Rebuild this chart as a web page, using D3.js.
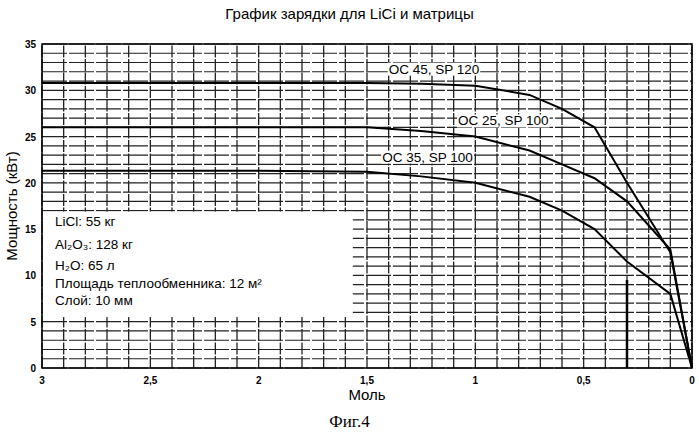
<!DOCTYPE html>
<html><head><meta charset="utf-8">
<script src="https://cdn.jsdelivr.net/npm/d3@7"></script>
<style>body{margin:0;background:#fff}text{font-family:Arial,'Liberation Sans',sans-serif}</style>
</head><body><svg class="graph"></svg>
<script>
let width=699,height=436
let margin={top:44,left:42,right:7,bottom:68}
let xTicks=[3,2.5,2,1.5,1,0.5,0]
let yTicks=[0,5,10,15,20,25,30,35]
let mol=[3,2,1.5,1.25,1,0.75,0.6,0.45,0.3,0.1,0]
let oc45=[30.8,30.8,30.8,30.7,30.5,29.5,28,26,20,12.5,0]
let oc25=[26,26,26,25.6,25,23.5,22,20.5,18,12.8,0]
let oc35=[21.3,21.3,21.2,20.7,20,18.5,17,15,11.5,8,0]
let labels=['OC 45, SP 120','OC 25, SP 100','OC 35, SP 100']
let boxText=['LiCl: 55 кг','Al₂O₃: 128 кг','H₂O: 65 л','Площадь теплообменника: 12 м²','Слой: 10 мм']
let boxRows=[15.3,12.9,10.6,8.6,6.8]

let svg=d3.select('.graph').attr('width',width).attr('height',height)
let xscale=d3.scaleLinear().domain([3,0]).range([margin.left,width-margin.right])
let yscale=d3.scaleLinear().domain([0,35]).range([height-margin.bottom,margin.top])

// grid
svg.append('g').selectAll('line').data(d3.range(0,30.5,1).map(d=>d/10)).join('line')
   .attr('x1',d=>xscale(d)).attr('x2',d=>xscale(d)).attr('y1',yscale(0)).attr('y2',yscale(35))
   .attr('stroke','#222').attr('stroke-width',1.3).attr('stroke-dasharray','12,1.5')
svg.append('g').selectAll('line').data(d3.range(0,36)).join('line')
   .attr('x1',xscale(3)).attr('x2',xscale(0)).attr('y1',d=>yscale(d)).attr('y2',d=>yscale(d))
   .attr('stroke','#222').attr('stroke-width',1.2).attr('stroke-dasharray','25,2')
svg.append('rect').attr('x',xscale(3)).attr('y',yscale(35)).attr('width',xscale(0)-xscale(3))
   .attr('height',yscale(0)-yscale(35)).attr('fill','none').attr('stroke','#000').attr('stroke-width',1.5)

// text box
svg.append('rect').attr('x',xscale(3)+1).attr('y',yscale(16.9)).attr('width',xscale(1.57)-xscale(3))
   .attr('height',yscale(5.5)-yscale(16.9)).attr('fill','#fff')
svg.selectAll('.box').data(boxText).join('text').attr('class','box')
   .attr('x',xscale(2.94)).attr('y',(d,i)=>yscale(boxRows[i])).attr('font-size',13.5).text(d=>d)

// marks
svg.append('line').attr('x1',xscale(0.3)).attr('x2',xscale(0.3)).attr('y1',yscale(0)).attr('y2',yscale(9.5))
   .attr('stroke','#000').attr('stroke-width',2.5)
let line=d3.line().x((d,i)=>xscale(mol[i])).y(d=>yscale(d))
svg.selectAll('.curve').data([oc45,oc25,oc35]).join('path').attr('class','curve')
   .attr('d',d=>line(d)).attr('fill','none').attr('stroke','#000').attr('stroke-width',2)

// curve labels
let lpos=[[1.4,31.8],[1.08,26.2],[1.43,22.3]]
lpos.forEach((p,i)=>{
  let t=svg.append('text').attr('x',xscale(p[0])).attr('y',yscale(p[1])).attr('font-size',13.5).text(labels[i])
  let b=t.node().getBBox()
  svg.insert('rect','text.box').attr('x',b.x-1).attr('y',b.y+1).attr('width',b.width+2).attr('height',b.height-2).attr('fill','#fff')
  t.raise()
})

// axes
svg.selectAll('.xt').data(xTicks).join('text').attr('class','xt').attr('x',d=>xscale(d)).attr('y',yscale(0)+16)
   .attr('text-anchor','middle').attr('font-size',10).attr('font-weight','bold').text(d=>String(d).replace('.',','))
svg.selectAll('.yt').data(yTicks).join('text').attr('class','yt').attr('x',xscale(3)-6).attr('y',d=>yscale(d)+4)
   .attr('text-anchor','end').attr('font-size',10).attr('font-weight','bold').text(d=>d)
svg.append('text').attr('x',(xscale(3)+xscale(0))/2).attr('y',400).attr('text-anchor','middle').attr('font-size',15).text('Моль')
svg.append('text').attr('transform',`translate(17,${yscale(17.5)}) rotate(-90)`).attr('text-anchor','middle').attr('font-size',15).text('Мощность (кВт)')
svg.append('text').attr('x',width/2).attr('y',19).attr('text-anchor','middle').attr('font-size',15).text('График зарядки для LiCi и матрицы')
svg.append('text').attr('x',width/2).attr('y',427).attr('text-anchor','middle').attr('font-size',17)
   .style('font-family','Liberation Serif, serif').text('Фиг.4')
</script></body></html>
